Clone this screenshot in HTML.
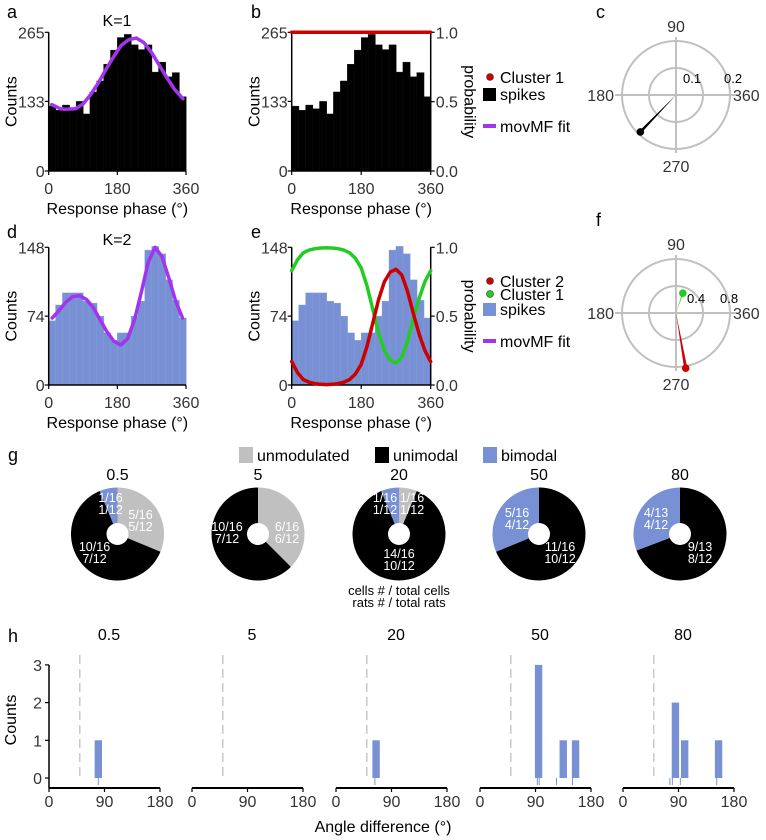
<!DOCTYPE html>
<html><head><meta charset="utf-8"><style>
html,body{margin:0;padding:0;background:#fff;}
svg{display:block;font-family:"Liberation Sans",Arial,sans-serif;}
</style></head><body>
<svg id="fig" width="766" height="840" viewBox="0 0 766 840" xmlns="http://www.w3.org/2000/svg"></svg>
<script>
// ---------- data ----------
const phaseBinsK1 = [124,116,126,119,133,109,151,172,204,231,255,261,241,232,241,189,208,180,188,142];
const fitK1Phase = [8,30,43,70,90,110,130,150,170,190,210,230,250,270,290,310,330,352];
const fitK1Count = [127,119,118,119,128,146,168,194,218,240,251,254,245,226,202,178,156,138];
const phaseBinsK2 = [69,86,99,99,99,90,88,74,56,48,56,56,74,90,145,149,141,113,91,72];
const fitK2Phase = [9,27,45,63,81,99,117,135,153,171,189,207,225,243,261,279,297,315,333,351];
const fitK2Count = [72,80,89,95,96,92,83,70,57,47,43,50,70,100,132,148,138,115,90,72];
const probPhase = [0,15,30,45,60,75,90,105,120,135,150,165,180,195,210,225,240,255,270,285,300,315,330,345,360];
const probCluster2 = [0.17,0.09,0.04,0.02,0.01,0.005,0.003,0.005,0.01,0.02,0.04,0.08,0.15,0.28,0.45,0.62,0.75,0.82,0.84,0.80,0.68,0.52,0.37,0.25,0.17];
const polarCAngle = [226];
const polarCR = [0.19];
const polarFAngle = [71, 280];
const polarFR = [0.31, 0.83];
const pieTitles = ['0.5','5','20','50','80'];
const pieUnmod = [5,6,1,0,0];
const pieUni = [10,10,14,11,9];
const pieBi = [1,0,1,5,4];
const hTitles = ['0.5','5','20','50','80'];
const hBinCenters = [[80],[],[65],[95,135,155],[85,100,155]];
const hBinCounts = [[1],[],[1],[3,1,1],[2,1,1]];
const hRug = [[80],[],[63],[93,96,124,150],[76,80,93,152]];
const hThreshold = 50;

// ---------- helpers ----------
const NS='http://www.w3.org/2000/svg';
const svg=document.getElementById('fig');
function el(tag,attrs,parent){const e=document.createElementNS(NS,tag);for(const k in attrs)e.setAttribute(k,attrs[k]);(parent||svg).appendChild(e);return e;}
function txt(x,y,s,attrs,parent){const t=el('text',Object.assign({x:x,y:y},attrs||{}),parent);t.textContent=s;return t;}
const TICK='#333', BLUE='#7890d4', PURPLE='#a334ee', RED='#cc0000', GREEN='#22cc22', GREY='#c0c0c0';

function panelLabel(x,y,s){const t=txt(x,y,s,{'font-size':18,fill:'#000'});

}

function histPanel(name,counts,ymax,ticks,x0,x1,yb,yt,color,rightAxis){
  const g=el('g',{});
  
  
  const sx=v=>x0+(x1-x0)*v/360, sy=v=>yb-(yb-yt)*v/ymax;
  const n=counts.length, w=360/n;
  counts.forEach((c,i)=>{
    const r=el('rect',{x:sx(i*w),y:sy(c),width:sx(w)-sx(0)+0.3,height:yb-sy(c),fill:color,stroke:color==='#000'?'#111':'#8ba0dc','stroke-width':0.4},g);
    
    
  });
  el('line',{x1:x0,y1:yt,x2:x0,y2:yb,stroke:'#000','stroke-width':1.5},g);
  el('line',{x1:x0,y1:yb,x2:x1,y2:yb,stroke:'#000','stroke-width':1.5},g);
  ticks.forEach(t=>{
    el('line',{x1:x0-4,y1:sy(t),x2:x0,y2:sy(t),stroke:'#000','stroke-width':1.2},g);
    const l=txt(x0-4,sy(t)+6,String(t),{'font-size':16,fill:TICK,'text-anchor':'end'},g);
    
    
  });
  [0,180,360].forEach(t=>{
    el('line',{x1:sx(t),y1:yb,x2:sx(t),y2:yb+4,stroke:'#000','stroke-width':1.2},g);
    const l=txt(sx(t),yb+23,String(t),{'font-size':16,fill:TICK,'text-anchor':'middle'},g);
    
    
  });
  const xl=txt((x0+x1)/2,yb+43,'Response phase (°)',{'font-size':16,fill:'#000','text-anchor':'middle'},g);
  
  
  const yl=txt(0,0,'Counts',{'font-size':16,fill:'#000','text-anchor':'middle',transform:'translate('+(x0-32)+','+((yb+yt)/2)+') rotate(-90)'},g);
  
  
  if(rightAxis){
    el('line',{x1:x1,y1:yt,x2:x1,y2:yb,stroke:'#000','stroke-width':1.5},g);
    [0,0.5,1].forEach(p=>{
      const y=yb-(yb-yt)*p;
      el('line',{x1:x1,y1:y,x2:x1+4,y2:y,stroke:'#000','stroke-width':1.2},g);
      const l=txt(x1+5,y+6,p.toFixed(1),{'font-size':16,fill:TICK},g);
      
      
    });
    const pl=txt(0,0,'probability',{'font-size':16,fill:'#000','text-anchor':'middle',transform:'translate('+(x1+34)+','+((yb+yt)/2)+') rotate(90)'},g);
    
    
  }
  return {g,sx,sy};
}
function curve(g,xs,ys,sx,sy,color,w,name){
  const d=xs.map((x,i)=>(i?'L':'M')+sx(x).toFixed(2)+','+sy(ys[i]).toFixed(2)).join(' ');
  const p=el('path',{d:d,fill:'none',stroke:color,'stroke-width':w,'stroke-linejoin':'round','stroke-linecap':'round'},g);
  
  
}
function legend(x,y,items){
  const g=el('g',{});
  
  
  items.forEach(it=>{
    const yy=y+it.dy;
    if(it.kind==='dot'){el('circle',{cx:x+4,cy:yy,r:3.5,fill:it.color,stroke:'#333','stroke-width':0.6},g);}
    else if(it.kind==='sq'){el('rect',{x:x-3,y:yy-6,width:13,height:13,fill:it.color},g);}
    else {el('line',{x1:x-3,y1:yy,x2:x+10,y2:yy,stroke:it.color,'stroke-width':4},g);}
    const t=txt(x+14,yy+6,it.label,{'font-size':16,fill:'#000'},g);
    
    
  });
}
function polar(name,cx,cy,R,rmax,labels,lx,ly,angles,rs,colors,widths){
  const g=el('g',{});
  
  
  el('circle',{cx:cx,cy:cy,r:R,fill:'none',stroke:GREY,'stroke-width':2},g);
  el('circle',{cx:cx,cy:cy,r:R/2,fill:'none',stroke:GREY,'stroke-width':2},g);
  el('line',{x1:cx,y1:cy-R-4,x2:cx,y2:cy+R+4,stroke:GREY,'stroke-width':2},g);
  el('line',{x1:cx-R-7,y1:cy,x2:cx+R+7,y2:cy,stroke:GREY,'stroke-width':2},g);
  const a=txt(cx,cy-R-9,'90',{'font-size':16,fill:TICK,'text-anchor':'middle'},g);
  
  
  const b=txt(cx,cy+R+23,'270',{'font-size':16,fill:TICK,'text-anchor':'middle'},g);
  
  
  const c=txt(cx-R-8,cy+6,'180',{'font-size':16,fill:TICK,'text-anchor':'end'},g);
  
  
  const d=txt(cx+R+3,cy+6,'360',{'font-size':16,fill:TICK},g);
  
  
  const r1=txt(cx+lx[0],cy+ly,labels[0],{'font-size':13,fill:'#000'},g);
  
  
  const r2=txt(cx+lx[1],cy+ly,labels[1],{'font-size':13,fill:'#000'},g);
  
  
  angles.forEach((ang,i)=>{
    const rr=rs[i]/rmax*R, th=ang*Math.PI/180;
    const px=cx+rr*Math.cos(th), py=cy-rr*Math.sin(th);
    const l=el('polygon',{points:cx+','+cy+' '+(px-widths[i]*Math.sin(th))+','+(py-widths[i]*Math.cos(th))+' '+(px+widths[i]*Math.sin(th))+','+(py+widths[i]*Math.cos(th)),fill:colors[i]},g);
    
    
    const dot=el('circle',{cx:px,cy:py,r:3.8,fill:colors[i]},g);
    
    
  });
}

// ---------- panels a-f ----------
panelLabel(7,18,'a');panelLabel(251,18,'b');panelLabel(596,18,'c');
panelLabel(7,238,'d');panelLabel(251,238,'e');panelLabel(596,226,'f');
panelLabel(8,461,'g');panelLabel(8,642,'h');
const k1=txt(117,26,'K=1',{'font-size':16,fill:'#000','text-anchor':'middle'});


const k2=txt(117,245,'K=2',{'font-size':16,fill:'#000','text-anchor':'middle'});



const pa=histPanel('panel-a-histogram',phaseBinsK1,265,[0,133,265],48.7,186,171,32.3,'#000',false);
curve(pa.g,fitK1Phase,fitK1Count,pa.sx,pa.sy,PURPLE,3.5,'movmf-fit-curve');
const pb=histPanel('panel-b-histogram',phaseBinsK1,265,[0,133,265],291.7,430.7,171,32.3,'#000',true);
curve(pb.g,[0,360],[265,265],pb.sx,pb.sy,RED,3.5,'cluster-1-probability');
legend(486,77,[{kind:'dot',color:RED,label:'Cluster 1',dy:0},{kind:'sq',color:'#000',label:'spikes',dy:17},{kind:'line',color:PURPLE,label:'movMF fit',dy:49}]);
polar('panel-c-polar',676,95,54,0.2,['0.1','0.2'],[7,48],-12,polarCAngle,polarCR,['#000'],[1.4]);

const pd=histPanel('panel-d-histogram',phaseBinsK2,148,[0,74,148],48.7,186,385,247.3,BLUE,false);
curve(pd.g,fitK2Phase,fitK2Count,pd.sx,pd.sy,PURPLE,3.5,'movmf-fit-curve');
const pe=histPanel('panel-e-histogram',phaseBinsK2,148,[0,74,148],291.7,430.7,385,247.3,BLUE,true);
const probY=p=>385-(385-247.3)*p;
curve(pe.g,probPhase,probCluster2.map(p=>1-p),pe.sx,probY,GREEN,3.5,'cluster-1-probability');
curve(pe.g,probPhase,probCluster2,pe.sx,probY,RED,3.5,'cluster-2-probability');
legend(486,281,[{kind:'dot',color:RED,label:'Cluster 2',dy:0},{kind:'dot',color:GREEN,label:'Cluster 1',dy:13},{kind:'sq',color:BLUE,label:'spikes',dy:28},{kind:'line',color:PURPLE,label:'movMF fit',dy:60}]);
polar('panel-f-polar',676,313,54,0.8,['0.4','0.8'],[11,44],-10,polarFAngle,polarFR,[GREEN,RED],[0.6,1.6]);

// ---------- panel g ----------
const lg=el('g',{});


[[239,GREY,'unmodulated'],[375,'#000','unimodal'],[483,BLUE,'bimodal']].forEach(e=>{
  el('rect',{x:e[0],y:447,width:14,height:16,fill:e[1]},lg);
  const t=txt(e[0]+18,461,e[2],{'font-size':16,fill:'#000'},lg);
  
  
});
const pieCx=[117.5,258,399,539,680];
const pieLabels=[
 [[-7,-36,'1/16','1/12'],[23,-19,'5/16','5/12'],[-23,13,'10/16','7/12']],
 [[-31,-7,'10/16','7/12'],[29,-7,'6/16','6/12']],
 [[-14,-36,'1/16','1/12'],[13,-36,'1/16','1/12'],[0,20,'14/16','10/12']],
 [[-22,-21,'5/16','4/12'],[21,13,'11/16','10/12']],
 [[-24,-21,'4/13','4/12'],[20,13,'9/13','8/12']]
];
function arcPath(cx,cy,r,a0,a1){
  const p=a=>[cx+r*Math.sin(a*Math.PI/180),cy-r*Math.cos(a*Math.PI/180)];
  const s=p(a0),e=p(a1),large=(a1-a0)>180?1:0;
  return 'M'+cx+','+cy+' L'+s[0]+','+s[1]+' A'+r+','+r+' 0 '+large+' 1 '+e[0]+','+e[1]+' Z';
}
pieTitles.forEach((title,i)=>{
  const g=el('g',{});
  
  
  const cx=pieCx[i], cy=534, R=46.5;
  const tot=pieUnmod[i]+pieUni[i]+pieBi[i];
  let a=0;
  [[pieUnmod[i],GREY,'unmodulated'],[pieUni[i],'#000','unimodal'],[pieBi[i],BLUE,'bimodal']].forEach(s=>{
    if(s[0]<=0)return;
    const span=s[0]/tot*360;
    const sl=(span>=359.9)?el('circle',{cx:cx,cy:cy,r:R,fill:s[1]},g):el('path',{d:arcPath(cx,cy,R,a,a+span),fill:s[1]},g);
    
    
    a+=span;
  });
  el('circle',{cx:cx,cy:cy,r:11,fill:'#fff'},g);
  const t=txt(cx,480,title,{'font-size':16,fill:'#000','text-anchor':'middle'},g);
  
  
  pieLabels[i].forEach(L=>{
    const a1=txt(cx+L[0],cy+L[1]+4,L[2],{'font-size':12.5,fill:'#fff','text-anchor':'middle'},g);
    
    
    const a2=txt(cx+L[0],cy+L[1]+16,L[3],{'font-size':12.5,fill:'#fff','text-anchor':'middle'},g);
    
    
  });
});
const n1=txt(399,595,'cells # / total cells',{'font-size':13,fill:'#000','text-anchor':'middle'});


const n2=txt(399,607,'rats # / total rats',{'font-size':13,fill:'#000','text-anchor':'middle'});



// ---------- panel h ----------
const hX0=[49,192,336,480,623], hW=111, hY0=778, hPer=37.7, hAxisY=788;
hTitles.forEach((title,i)=>{
  const g=el('g',{});
  
  
  const sx=v=>hX0[i]+hW*v/180, sy=c=>hY0-hPer*c;
  el('line',{x1:sx(hThreshold),y1:655,x2:sx(hThreshold),y2:hY0,stroke:'#bbb','stroke-width':1.2,'stroke-dasharray':'9,5'},g);
  hBinCenters[i].forEach((c,j)=>{
    const r=el('rect',{x:sx(c)-3.7,y:sy(hBinCounts[i][j]),width:7.4,height:hY0-sy(hBinCounts[i][j]),fill:BLUE},g);
    
    
  });
  hRug[i].forEach(v=>{el('line',{x1:sx(v),y1:hY0,x2:sx(v),y2:hY0+7,stroke:BLUE,'stroke-width':1},g);});
  el('line',{x1:hX0[i],y1:hAxisY,x2:hX0[i]+hW,y2:hAxisY,stroke:'#000','stroke-width':2},g);
  [0,90,180].forEach(t=>{
    el('line',{x1:sx(t),y1:hAxisY,x2:sx(t),y2:hAxisY+4,stroke:'#000','stroke-width':1.2},g);
    const l=txt(sx(t),hAxisY+19,String(t),{'font-size':16,fill:TICK,'text-anchor':'middle'},g);
    
    
  });
  const tt=txt(hX0[i]+60,640,title,{'font-size':16,fill:'#000','text-anchor':'middle'},g);
  
  
});
const hy=el('g',{});


el('line',{x1:49,y1:hY0-hPer*3,x2:49,y2:hAxisY,stroke:'#000','stroke-width':1.5},hy);
[0,1,2,3].forEach(c=>{
  const y=hY0-hPer*c;
  el('line',{x1:45,y1:y,x2:49,y2:y,stroke:'#000','stroke-width':1.2},hy);
  const l=txt(42,y+6,String(c),{'font-size':16,fill:TICK,'text-anchor':'end'},hy);
  
  
});
const hyl=txt(0,0,'Counts',{'font-size':16,fill:'#000','text-anchor':'middle',transform:'translate(16,720) rotate(-90)'},hy);


const hxl=txt(383,832,'Angle difference (°)',{'font-size':16,fill:'#000','text-anchor':'middle'});


</script>
</body></html>
